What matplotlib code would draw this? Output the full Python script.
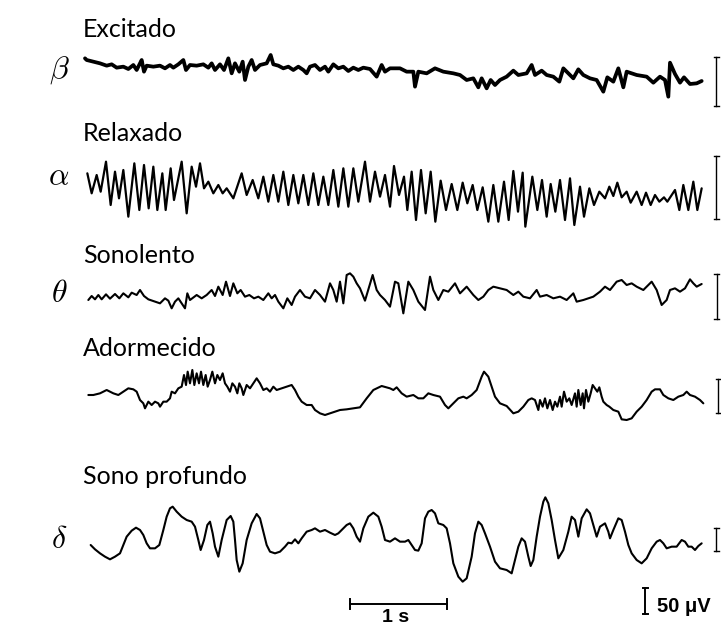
import numpy as np
import matplotlib
matplotlib.use("Agg")
import matplotlib.pyplot as plt

plt.rcParams['mathtext.fontset'] = 'cm'

# ---------------- data (sample index at FS Hz, amplitude in digitiser units, up = positive)
FS = 291.0

labels = ["Excitado", "Relaxado", "Sonolento", "Adormecido", "Sono profundo"]
greek = [r"$\beta$", r"$\alpha$", r"$\theta$", "", r"$\delta$"]

beta_s = [0, 5, 25, 45, 65, 80, 95, 115, 130, 145, 155, 165, 170, 177, 185, 205, 225, 240, 255, 265,
          280, 295, 303, 315, 335, 355, 370, 380, 390, 405, 417, 430, 440, 450, 463, 473, 480, 490, 500, 510,
          525, 545, 557, 565, 580, 595, 610, 625, 640, 655, 665, 675, 690, 705, 720, 730, 745, 760, 775, 790,
          805, 820, 835, 855, 875, 890, 900, 915, 945, 965, 985, 990, 1000,
          1025, 1050, 1075, 1105, 1125, 1145, 1165, 1180, 1190, 1205, 1217, 1230, 1245, 1265, 1285, 1300, 1325, 1340, 1350, 1370,
          1385, 1405, 1423, 1435, 1450, 1465, 1480, 1495, 1515, 1535, 1555, 1567, 1585, 1600, 1615, 1625, 1655, 1685, 1705, 1725,
          1740, 1750, 1755, 1770, 1785, 1797, 1815, 1835, 1850]
beta_a = [30, 25, 20, 15, 8, 12, 2, 5, -2, 10, -5, 15, 25, -10, 8, 5, 8, 0, 10, 2,
          12, 25, -5, 10, 8, 12, 2, 15, -5, 12, -5, 30, -15, 15, -10, 20, -35, 5, 25, -5,
          10, 15, 40, 12, 8, 0, 5, -5, 5, -5, -15, 5, 10, -5, 5, -10, 12, 0, 5, -8,
          2, -5, 2, -2, -25, 10, -10, 0, 0, -10, -10, -55, -10,
          -15, 0, -10, -15, -20, -35, -30, -57, -30, -60, -35, -50, -35, -25, -7, -20, -15, 10, -20, -7,
          -20, -25, -40, 0, -15, -30, -3, -20, -30, -35, -70, -27, -40, 0, -57, -10, -20, -25, -43, -25,
          -35, -85, 17, -17, -43, -27, -47, -45, -38]

alpha_s = [7, 20, 35, 47, 63, 77, 90, 102, 115, 130, 148, 163, 177, 191, 205, 217, 232, 242, 257, 267,
           290, 305, 320, 333, 345, 357, 370, 385, 400, 413, 425, 445, 470, 485, 503, 520, 535, 550, 565, 580,
           595, 610, 625, 640, 655, 670, 685, 700, 715, 730, 745, 760, 775, 790, 805, 820,
           840, 855, 870, 885, 900, 915, 927, 942, 957, 967, 980, 993, 1008, 1022, 1037, 1051, 1067, 1083, 1100, 1117,
           1133, 1147, 1163, 1177, 1193, 1210, 1225, 1240, 1257, 1271, 1285, 1299, 1313, 1321, 1342, 1357, 1371, 1385, 1397, 1411,
           1425, 1440, 1455, 1468, 1485, 1497, 1513, 1527, 1543, 1560, 1573, 1585, 1597, 1610, 1625, 1637, 1655, 1670, 1683, 1697,
           1710, 1723, 1737, 1747, 1770, 1783, 1795, 1810, 1825, 1837, 1850]
alpha_a = [40, -20, 35, -15, 75, -55, 45, -35, 50, -90, 70, -70, 65, -65, 60, -70, 40, -70, 55, -40,
           75, -80, 60, 0, 70, -5, 15, -20, 5, -20, -5, -35, 40, -25, 20, -35, 30, -45, 35, -45,
           45, -55, 35, -50, 35, -55, 40, -55, 30, -55, 50, -60, 55, -60, 55, -45,
           75, -45, 45, -30, 35, -60, 62, -25, 30, -70, 45, -100, 50, -80, 45, -105, 18, -70, 8, -70,
           12, -50, 5, -70, -2, -105, 5, -105, 15, -100, 47, -75, 42, -120, 30, -70, 20, -90, 8, -75,
           20, -100, 25, -115, 0, -90, -5, -55, -15, -35, 0, -28, 12, -32, -15, -48, -15, -55, -18, -55,
           -25, -45, -32, -45, -10, -70, 5, -70, 15, -70, -5]

theta_s = [10, 20, 30, 40, 50, 63, 75, 90, 103, 115, 130, 140, 155, 165, 177, 190, 210, 225, 240, 250,
           260, 270, 280, 290, 300, 307, 315, 335, 350, 365, 380, 390, 400, 413, 423, 435, 445, 457, 467, 480,
           493, 507, 520, 535, 550, 560, 570, 580, 595, 607, 620, 630, 645, 660, 675, 690, 705, 720, 735, 745,
           755, 765, 775, 785, 795, 805, 815, 825, 840, 863, 875, 885, 900, 915, 930, 940, 955, 970, 985, 1000,
           1020, 1035, 1045, 1060, 1075, 1090, 1110, 1125, 1145, 1165, 1180, 1195, 1210, 1225, 1245, 1265, 1285, 1300, 1315, 1335,
           1355, 1365, 1385, 1405, 1425, 1445, 1465, 1475, 1495, 1525, 1545, 1560, 1575, 1595, 1610, 1625, 1640, 1655, 1675, 1685,
           1700, 1715, 1730, 1745, 1755, 1770, 1785, 1800, 1815, 1825, 1835, 1850]
theta_a = [-10, 2, -8, 5, -8, 7, -6, 8, -5, 10, -2, 12, 5, 20, 2, -8, -15, -20, -5, -12,
           -35, -15, -5, -20, -35, 10, -10, 5, -5, 5, 20, 2, 30, 5, 45, 2, 40, 10, 20, 0,
           5, -5, 0, -10, 10, -5, 5, -15, -35, -5, -25, 0, 20, 0, -5, 20, 5, -15, 40, 20,
           -15, 45, -20, 65, 70, 60, 40, 25, -12, 65, 20, 5, -10, -30, 45, 40, -50, 45, 20, -15,
           -40, 60, 20, -10, 20, 15, 40, 10, 30, 5, -10, 0, 20, 30, 25, 20, 5, 15, 0, -5,
           20, 0, 5, -5, 0, -10, 10, -15, -10, 0, 15, 30, 20, 45, 50, 35, 40, 30, 20, 30,
           45, 20, -25, -10, 20, 25, 15, 25, 52, 40, 30, 38]

drowsy_s = [10, 25, 45, 65, 85, 100, 115, 130, 145, 155, 165, 175, 180, 190, 200, 210, 220, 225, 235, 245,
            255, 260, 270, 280, 290, 297, 303, 308, 315, 322, 328, 335, 342, 348, 355, 362, 368, 375, 382, 390,
            397, 405, 413, 420, 427, 435, 442, 450, 457, 463, 470, 475, 485, 495, 505, 515, 525, 535, 545, 555,
            565, 575, 590, 605, 620, 630, 640, 650, 665, 680, 690, 705, 720, 735, 750, 765, 785, 805, 825, 845,
            865, 890, 915, 925, 935, 950, 965, 985, 1000, 1015, 1030, 1045, 1065, 1080, 1090, 1105, 1120, 1135, 1145, 1160,
            1175, 1190, 1197, 1210, 1220, 1230, 1245, 1265, 1285, 1300, 1315, 1330, 1340, 1350, 1355, 1360, 1365, 1373, 1380, 1387,
            1395, 1403, 1410, 1417, 1425, 1430, 1437, 1445, 1453, 1460, 1470, 1475, 1480, 1487, 1493, 1497, 1503, 1510, 1517, 1523,
            1530, 1537, 1543, 1550, 1555, 1565, 1573, 1585, 1600, 1610, 1625, 1640, 1655, 1670, 1685, 1700, 1710, 1725, 1735, 1750,
            1765, 1780, 1795, 1805, 1815, 1830, 1845, 1855]
drowsy_a = [5, 5, 10, 20, 10, 5, 15, 25, 22, 15, -10, -20, -35, -15, -25, -15, -20, -30, -15, -15,
            -5, 15, 10, 25, 30, 65, 35, 75, 40, 80, 35, 70, 40, 75, 35, 65, 30, 50, 75, 40,
            65, 50, 70, 40, 30, 15, 40, 30, 10, 40, 25, 5, 35, 25, 40, 55, 40, 20, 25, 15,
            30, 20, 25, 30, 35, 20, 0, -15, -25, -25, -40, -50, -55, -50, -45, -40, -38, -35, -32, -5,
            20, 32, 25, 20, 28, 10, 0, 5, -5, -5, 10, 5, 0, -25, -35, -20, -5, 0, -5, 5,
            20, 60, 75, 60, 30, 0, -20, -28, -50, -45, -30, -10, -5, -10, -25, -40, -10, -30, -5, -35,
            -10, -40, -15, -30, 0, -30, 15, -15, -5, -25, 10, -30, 20, -25, 10, -35, 20, -15, 10, 35,
            25, 15, 28, 0, -15, -25, -30, -40, -45, -68, -70, -65, -45, -30, -10, 15, 22, 22, 5, -5,
            -10, 0, 5, 15, 5, 0, -10, -20]

delta_s = [17, 30, 45, 60, 75, 90, 105, 115, 125, 140, 153, 165, 175, 185, 195, 210, 223, 235, 245, 255,
           263, 275, 290, 305, 320, 330, 340, 347, 357, 367, 375, 383, 390, 400, 410, 425, 437, 445, 450, 455,
           463, 473, 485, 500, 515, 525, 535, 545, 555, 570, 585, 600, 610, 620, 630, 640, 650, 665, 680, 690,
           705, 720, 735, 750, 760, 770, 785, 795, 805, 815, 825, 835, 850, 865, 880, 890, 900, 915, 930, 945,
           960, 970, 980, 990, 1000, 1010, 1020, 1030, 1040, 1050, 1060, 1075, 1085, 1095, 1105, 1120, 1133, 1145, 1160, 1170,
           1180, 1190, 1200, 1215, 1230, 1245, 1265, 1280, 1290, 1300, 1310, 1320, 1330, 1337, 1345, 1355, 1365, 1375, 1381, 1390,
           1400, 1410, 1420, 1435, 1450, 1460, 1470, 1480, 1490, 1505, 1515, 1525, 1535, 1545, 1560, 1570, 1575, 1585, 1600, 1610,
           1620, 1630, 1640, 1655, 1670, 1685, 1700, 1715, 1725, 1735, 1745, 1760, 1775, 1790, 1800, 1810, 1820, 1830, 1840, 1850]
delta_a = [-15, -28, -40, -50, -58, -50, -40, -15, 10, 28, 37, 30, 15, -10, -25, -25, -15, 30, 70, 95,
           100, 85, 70, 60, 55, 40, 0, -30, 0, 45, 55, 20, -20, -50, 0, 60, 72, 55, 0, -60,
           -95, -70, 0, 50, 78, 65, 25, -15, -35, -40, -35, -20, -8, -10, 2, -10, 5, 25, 30, 35,
           25, 30, 22, 15, 20, 30, 45, 50, 35, 10, -5, 35, 70, 82, 70, 40, 0, -5, 5, -5,
           -5, 0, -15, -30, -32, -10, 65, 85, 90, 80, 50, 45, 35, -10, -70, -110, -125, -115, -50, 20,
           55, 45, 20, -20, -65, -85, -90, -100, -60, -20, 5, -5, -50, -78, -60, 10, 70, 115, 128, 110,
           60, 0, -55, -30, 25, 70, 60, 10, 65, 92, 80, 45, 10, 40, 50, 25, 5, 30, 65, 60,
           25, -15, -40, -60, -70, -55, -25, -5, 0, -10, -25, -20, -20, 0, -5, -20, -20, -30, -18, -10]

traces_s = [beta_s, alpha_s, theta_s, drowsy_s, delta_s]
traces_a = [beta_a, alpha_a, theta_a, drowsy_a, delta_a]

# calibration bar lengths (digitiser units) for each trace, and the 50 uV reference
cal_heights = [147, 189, 135, 102, 69]
ref_height = 78
time_bar_s = 1.0

# ---------------- layout
W, H = 721, 627
fig = plt.figure(figsize=(W / 100, H / 100), dpi=100)
ax = fig.add_axes([0, 0, 1, 1])
ax.set_xlim(-255 / FS, (3 * W - 255) / FS)
ax.set_ylim(-3 * H, 0)
ax.axis('off')

baselines = [205, 560, 890, 1190, 1620]
lws = [2.7, 1.6, 1.5, 1.5, 1.5]
for s, a, b, lw in zip(traces_s, traces_a, baselines, lws):
    t = np.array(s) / FS
    y = -b + np.array(a)
    ax.plot(t, y, color='black', lw=lw, solid_joinstyle='round', solid_capstyle='round')

# calibration bars at right
cal_x = [716, 716, 716.7, 718, 716]
cal_cy = [244, 562, 890, 1188, 1619]
cap = 7.5 / FS


def vbar(xpx, cy, h, lw=1.2):
    x = (3 * xpx - 255) / FS
    ax.plot([x, x], [-cy - h / 2, -cy + h / 2], color='black', lw=lw)
    for yy in (-cy - h / 2, -cy + h / 2):
        ax.plot([x - cap, x + cap], [yy, yy], color='black', lw=lw)


for xp, cy, h in zip(cal_x, cal_cy, cal_heights):
    vbar(xp, cy, h, lw=1.0)

# reference 50 uV bar
vbar(645, 3 * 601, ref_height, lw=1.4)
# 1 s time bar
t0 = (3 * 350 - 255) / FS
ty = -3 * 604
ax.plot([t0, t0 + time_bar_s], [ty, ty], color='black', lw=1.4)
for xx in (t0, t0 + time_bar_s):
    ax.plot([xx, xx], [ty - 15, ty + 15], color='black', lw=1.4)

fig.text(396 / W, 1 - 618 / H, "1 s", ha='center', va='center', fontsize=14,
         fontweight='bold', family='Liberation Sans')
fig.text(657 / W, 1 - 607 / H, "50 μV", ha='left', va='center', fontsize=14.5,
         fontweight='bold', family='Liberation Sans')

label_base = [37, 141, 263, 356, 484]
for lab, yb in zip(labels, label_base):
    fig.text(83 / W, 1 - yb / H, lab, ha='left', va='baseline', fontsize=18, family='Lato')

greek_y = [70, 177, 293, None, 540]
for g, yy in zip(greek, greek_y):
    if g:
        fig.text(59 / W, 1 - yy / H, g, ha='center', va='center', fontsize=23)

fig.savefig("out.png", dpi=100)
